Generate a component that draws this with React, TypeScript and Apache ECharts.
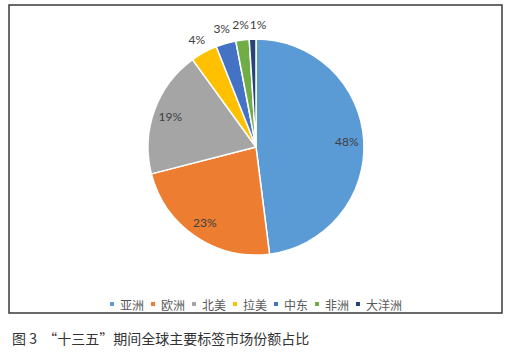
import React, { useEffect, useRef } from "react";
import * as echarts from "echarts";

const regions = ["亚洲", "欧洲", "北美", "拉美", "中东", "非洲", "大洋洲"];
const shares = [48, 23, 19, 4, 3, 2, 1];
const colors = ["#5B9BD5", "#ED7D31", "#A5A5A5", "#FFC000", "#4472C4", "#70AD47", "#264478"];
const insideLabelCount = 3;
const caption = "图 3  “十三五”期间全球主要标签市场份额占比";

export default function App() {
  const ref = useRef<HTMLDivElement>(null);
  useEffect(() => {
    if (!ref.current) return;
    const chart = echarts.init(ref.current, null, { renderer: "svg" });
    const pieData = regions.map((name, i) => ({
      name,
      value: shares[i],
      itemStyle: { color: colors[i] },
    }));
    const labelData = regions.map((name, i) => ({
      name,
      value: shares[i],
      label: { position: i < insideLabelCount ? "inside" : "outside" },
    }));
    chart.setOption({
      animation: false,
      backgroundColor: "#ffffff",
      legend: {
        data: regions,
        left: "center",
        top: 293,
        icon: "rect",
        itemWidth: 6,
        itemHeight: 6,
        itemGap: 5,
        textStyle: {
          fontFamily: "Noto Sans CJK SC",
          fontSize: 12,
          color: "#595959",
        },
      },
      graphic: [
        {
          type: "rect",
          shape: { x: 9, y: 5, width: 493, height: 308 },
          style: { fill: "none", stroke: "#3a3a3a", lineWidth: 1.5 },
          silent: true,
        },
        {
          type: "text",
          x: 12,
          y: 338,
          style: {
            text: caption,
            fontFamily: "Noto Sans CJK SC",
            fontSize: 14,
            fill: "#333333",
            verticalAlign: "middle",
            align: "left",
          },
        },
      ],
      series: [
        {
          type: "pie",
          center: [256, 147],
          radius: 108,
          startAngle: 90,
          clockwise: true,
          label: { show: false },
          labelLine: { show: false },
          itemStyle: { borderColor: "#ffffff", borderWidth: 1.5 },
          emphasis: { disabled: true },
          data: pieData,
        },
        {
          type: "pie",
          center: [256, 147],
          radius: [68, 108],
          startAngle: 90,
          clockwise: true,
          silent: true,
          avoidLabelOverlap: false,
          itemStyle: { color: "rgba(0,0,0,0)", borderWidth: 0 },
          emphasis: { disabled: true },
          label: {
            show: true,
            formatter: "{c}%",
            fontFamily: "Lato",
            fontSize: 12,
            color: "#404040",
            distanceToLabelLine: 0,
          },
          labelLine: { show: false, length: 15, length2: 0 },
          labelLayout: (params: any) => {
            if (params.dataIndex >= insideLabelCount) {
              return {
                align: "center",
                verticalAlign: "middle",
                dx: params.dataIndex === regions.length - 1 ? 6 : 0,
              };
            }
            return {};
          },
          data: labelData,
        },
      ],
    });
    return () => chart.dispose();
  }, []);
  return (
    <div
      ref={ref}
      style={{ position: "fixed", left: 0, top: 0, width: 510, height: 354 }}
    />
  );
}
